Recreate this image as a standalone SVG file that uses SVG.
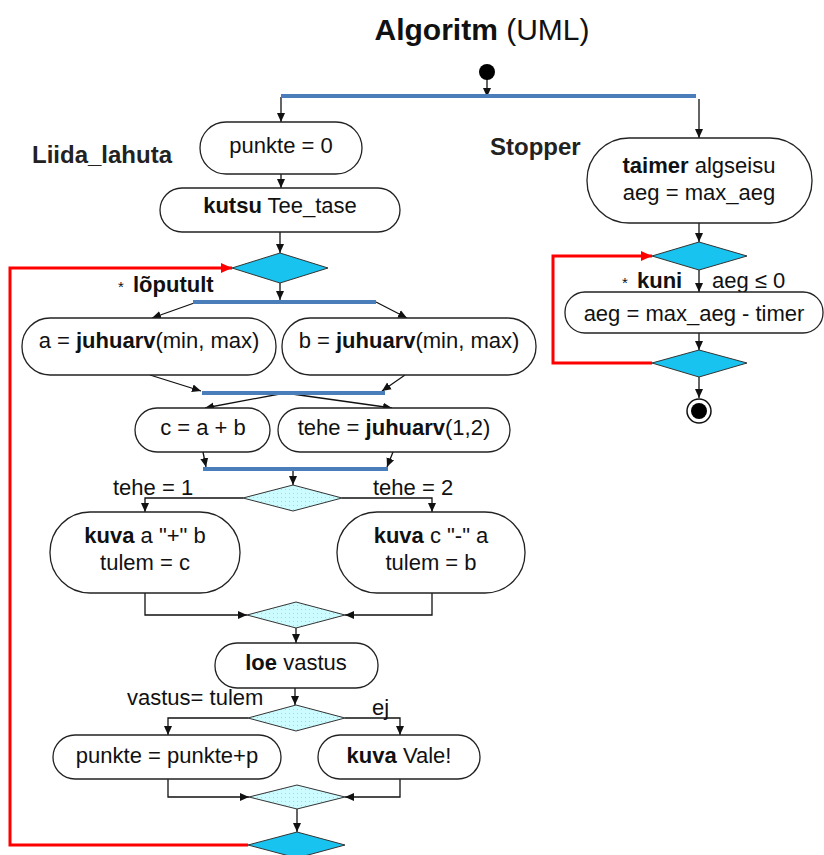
<svg xmlns="http://www.w3.org/2000/svg" width="824" height="855" viewBox="0 0 824 855">
<style>
.t{font-family:"Liberation Sans",Arial,sans-serif;font-size:22px;fill:#111}
.b{font-weight:bold}
.h{font-family:"Liberation Sans",Arial,sans-serif;font-size:24px;font-weight:bold;fill:#222}
.pill{fill:#fff;stroke:#222;stroke-width:1.3}
.bar{stroke:#4a7ebb;stroke-width:4}
.c{stroke:#111;stroke-width:1.3;fill:none;marker-end:url(#ah)}
.red{stroke:#f00;stroke-width:3;fill:none;marker-end:url(#rah)}
.dd{fill:#19c3ef;stroke:#333;stroke-width:1}
.ld{fill:url(#dots);stroke:#333;stroke-width:1}
</style>
<defs>
<marker id="ah" markerWidth="10" markerHeight="10" refX="9" refY="5" orient="auto" markerUnits="userSpaceOnUse"><path d="M0,1 L9,5 L0,9 z" fill="#111"/></marker>
<marker id="rah" markerWidth="12" markerHeight="12" refX="11" refY="6" orient="auto" markerUnits="userSpaceOnUse"><path d="M0,1 L11,6 L0,11 z" fill="#f00"/></marker>
<pattern id="dots" width="4" height="4" patternUnits="userSpaceOnUse"><rect width="4" height="4" fill="#ccfcff"/><rect x="1" y="1" width="1" height="1" fill="#9adcec"/></pattern>
</defs>
<rect width="824" height="855" fill="#fff"/>

<text x="482" y="40" text-anchor="middle" class="t" style="font-size:30px"><tspan class="b">Algoritm</tspan> (UML)</text>
<text x="32" y="163" class="h">Liida_lahuta</text>
<text x="490" y="155" class="h">Stopper</text>

<g id="connectors">
<line class="c" x1="487" y1="78" x2="487" y2="97"/>
<line class="c" x1="281" y1="97" x2="281" y2="122"/>
<line class="c" x1="699" y1="99" x2="699" y2="138"/>
<line class="c" x1="281" y1="174" x2="281" y2="188"/>
<line class="c" x1="280" y1="232" x2="280" y2="253"/>
<line class="c" x1="280" y1="283" x2="280" y2="300"/>
<line class="c" x1="197" y1="302" x2="152" y2="318"/>
<line class="c" x1="376" y1="302" x2="407" y2="318"/>
<line class="c" x1="150" y1="375" x2="201" y2="391"/>
<line class="c" x1="405" y1="375" x2="382" y2="391"/>
<line class="c" x1="285" y1="393" x2="205" y2="408"/>
<line class="c" x1="285" y1="393" x2="392" y2="408"/>
<line class="c" x1="203" y1="452" x2="206" y2="467"/>
<line class="c" x1="393" y1="452" x2="387" y2="467"/>
<line class="c" x1="293" y1="469" x2="293" y2="485"/>
<polyline class="c" points="243,498 145,498 145,512"/>
<polyline class="c" points="342,498 432,498 432,512"/>
<polyline class="c" points="145,593 145,615 247,615"/>
<polyline class="c" points="432,593 432,615 345,615"/>
<line class="c" x1="296" y1="628" x2="296" y2="643"/>
<line class="c" x1="295" y1="688" x2="295" y2="705"/>
<polyline class="c" points="248,718 168,718 168,735"/>
<polyline class="c" points="345,718 400,718 400,735"/>
<polyline class="c" points="168,779 168,797 249,797"/>
<polyline class="c" points="400,779 400,797 345,797"/>
<line class="c" x1="297" y1="809" x2="297" y2="832"/>
<polyline class="red" points="248,845 10,845 10,268 232,268"/>
<line class="c" x1="699" y1="223" x2="699" y2="242"/>
<line class="c" x1="699" y1="270" x2="699" y2="292"/>
<line class="c" x1="699" y1="333" x2="699" y2="350"/>
<line class="c" x1="699" y1="377" x2="699" y2="398"/>
<polyline class="red" points="652,363 553,363 553,256 652,256"/>
</g>

<g id="start"><circle cx="487" cy="72" r="8" fill="#000"/></g>
<g id="fork1"><line class="bar" x1="281" y1="96" x2="696" y2="96"/></g>
<g id="fork2"><line class="bar" x1="193" y1="302" x2="376" y2="302"/></g>
<g id="join2"><line class="bar" x1="202" y1="393" x2="385" y2="393"/></g>
<g id="join3"><line class="bar" x1="203" y1="469" x2="388" y2="469"/></g>

<g id="n_punkte0"><rect class="pill" x="200" y="122" width="162" height="52" rx="26"/><text class="t" x="281" y="153" text-anchor="middle">punkte = 0</text></g>
<g id="n_kutsu"><rect class="pill" x="160" y="188" width="240" height="44" rx="22"/><text class="t" x="280" y="213" text-anchor="middle"><tspan class="b">kutsu</tspan> Tee_tase</text></g>
<g id="d_loop"><polygon class="dd" points="232,268 280,253 328,268 280,283"/>
<text class="t" x="118" y="292"><tspan style="font-size:15px">*</tspan></text><text class="t b" x="133" y="292">lõputult</text></g>
<g id="n_a"><rect class="pill" x="22" y="318" width="254" height="57" rx="28"/><text class="t" x="149" y="348" text-anchor="middle">a = <tspan class="b">juhuarv</tspan>(min, max)</text></g>
<g id="n_b"><rect class="pill" x="282" y="318" width="254" height="57" rx="28"/><text class="t" x="409" y="348" text-anchor="middle">b = <tspan class="b">juhuarv</tspan>(min, max)</text></g>
<g id="n_c"><rect class="pill" x="135" y="408" width="135" height="44" rx="22"/><text class="t" x="203" y="435" text-anchor="middle">c = a + b</text></g>
<g id="n_tehe"><rect class="pill" x="278" y="408" width="232" height="44" rx="22"/><text class="t" x="394" y="435" text-anchor="middle">tehe = <tspan class="b">juhuarv</tspan>(1,2)</text></g>
<g id="d_tehe"><polygon class="ld" points="243,498 293,485 342,498 293,511"/>
<text class="t" x="113" y="495">tehe = 1</text><text class="t" x="373" y="495">tehe = 2</text></g>
<g id="n_kuva1"><rect class="pill" x="50" y="512" width="190" height="81" rx="40"/><text class="t" x="145" y="543" text-anchor="middle"><tspan class="b">kuva</tspan> a "+" b</text><text class="t" x="145" y="570" text-anchor="middle">tulem = c</text></g>
<g id="n_kuva2"><rect class="pill" x="337" y="512" width="188" height="81" rx="40"/><text class="t" x="431" y="543" text-anchor="middle"><tspan class="b">kuva</tspan>  c "-" a</text><text class="t" x="431" y="570" text-anchor="middle">tulem = b</text></g>
<g id="d_merge1"><polygon class="ld" points="247,615 296,602 345,615 296,628"/></g>
<g id="n_loe"><rect class="pill" x="215" y="643" width="163" height="45" rx="22"/><text class="t" x="296" y="670" text-anchor="middle"><tspan class="b">loe</tspan> vastus</text></g>
<g id="d_vastus"><polygon class="ld" points="248,718 296,705 345,718 296,731"/>
<text class="t" x="127" y="705">vastus= tulem</text><text class="t" x="372" y="715">ej</text></g>
<g id="n_punkte"><rect class="pill" x="53" y="735" width="228" height="44" rx="22"/><text class="t" x="167" y="763" text-anchor="middle">punkte = punkte+p</text></g>
<g id="n_vale"><rect class="pill" x="318" y="735" width="162" height="44" rx="22"/><text class="t" x="399" y="763" text-anchor="middle"><tspan class="b">kuva</tspan> Vale!</text></g>
<g id="d_merge2"><polygon class="ld" points="249,797 297,785 345,797 297,809"/></g>
<g id="d_loopend"><polygon class="dd" points="248,845 297,832 345,845 297,858"/></g>

<g id="n_taimer"><rect class="pill" x="587" y="138" width="225" height="85" rx="42"/><text class="t" x="699" y="173" text-anchor="middle"><tspan class="b">taimer</tspan> algseisu</text><text class="t" x="699" y="200" text-anchor="middle">aeg = max_aeg</text></g>
<g id="d_kuni"><polygon class="dd" points="652,256 699,242 747,256 699,270"/>
<text class="t" x="622" y="288"><tspan style="font-size:15px">*</tspan></text><text class="t b" x="637" y="288">kuni</text><text class="t" x="712" y="288">aeg ≤ 0</text></g>
<g id="n_aeg"><rect class="pill" x="565" y="292" width="258" height="41" rx="20"/><text class="t" x="694" y="321" text-anchor="middle">aeg = max_aeg - timer</text></g>
<g id="d_kuniend"><polygon class="dd" points="652,363 699,350 747,363 699,377"/></g>
<g id="end"><circle cx="699" cy="411" r="12" fill="#fff" stroke="#111" stroke-width="1.5"/><circle cx="699" cy="411" r="8" fill="#000"/></g>
</svg>
